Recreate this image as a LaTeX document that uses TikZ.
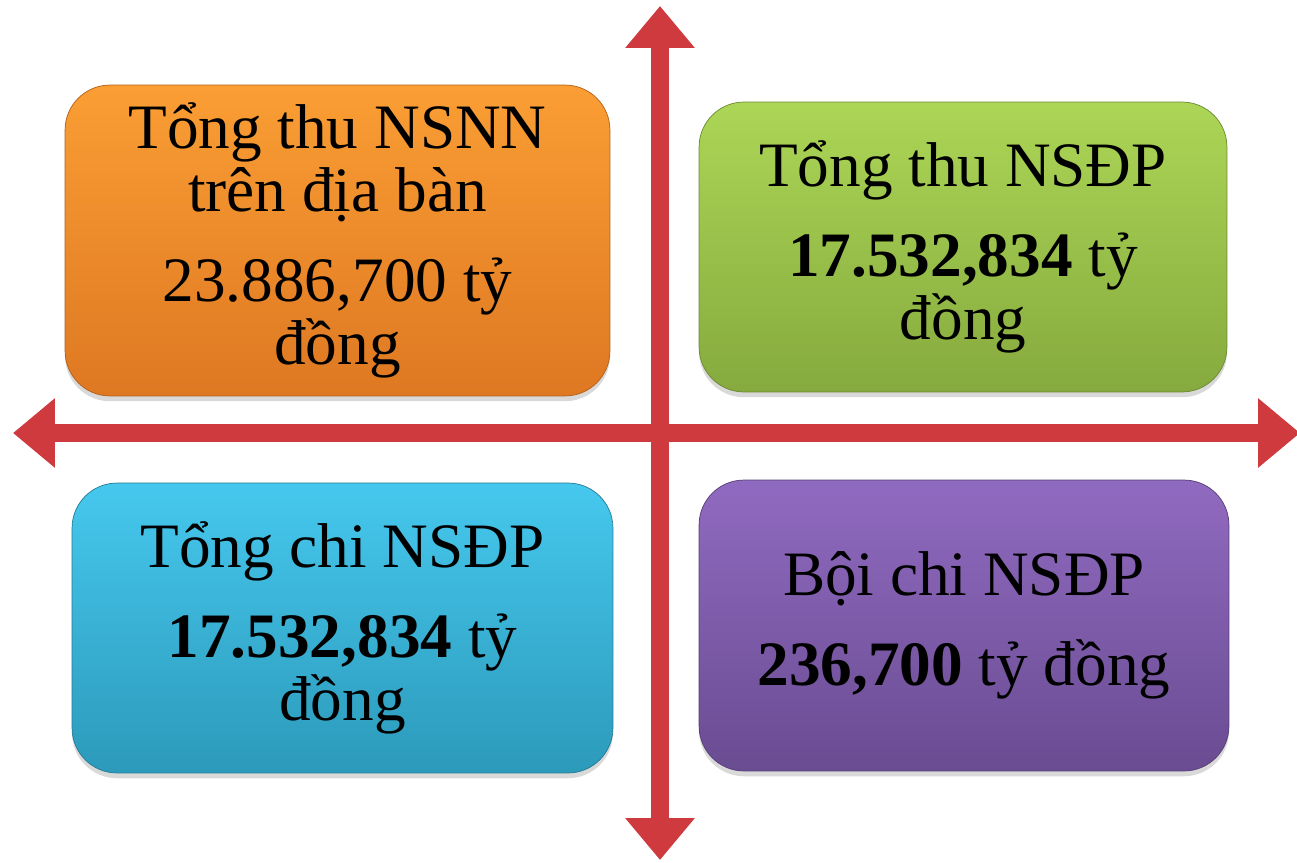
\documentclass[tikz,border=0pt]{standalone}
\usepackage{fontspec}
\setmainfont{Liberation Serif}
\usetikzlibrary{arrows.meta,shadows}
\definecolor{orangeT}{RGB}{250,158,52}
\definecolor{orangeB}{RGB}{222,120,34}
\definecolor{greenT}{RGB}{172,214,86}
\definecolor{greenB}{RGB}{134,170,62}
\definecolor{cyanT}{RGB}{70,200,238}
\definecolor{cyanB}{RGB}{44,154,186}
\definecolor{purpleT}{RGB}{144,106,192}
\definecolor{purpleB}{RGB}{106,76,146}
\definecolor{axisred}{RGB}{206,58,62}

\begin{document}
\begin{tikzpicture}[x=0.02cm,y=-0.02cm,
		box/.style={rounded corners=0.9cm,inner sep=0pt,align=center,
			font=\fontsize{36}{36}\selectfont,
			drop shadow={shadow xshift=0pt,shadow yshift=-3pt,opacity=0.3}},
		axis/.style={line width=0.36cm,draw=axisred,
			{Triangle[length=0.84cm,width=1.34cm]}-{Triangle[length=0.84cm,width=1.34cm]}}]
				            \useasboundingbox (0,0) rectangle (1297,862);
				            \coordinate (a_l) at (13,433);
				            \coordinate (a_r) at (1300,433);
				            \coordinate (a_t) at (660,6);
				            \coordinate (a_b) at (660,860);
				            \draw[axis] (a_l) -- (a_r);
				            \draw[axis] (a_t) -- (a_b);
				            \node[box,top color=orangeT,bottom color=orangeB,draw=orangeB!80!black,
				            minimum width=10.9cm,minimum height=6.22cm] (thu_nsnn) at (337.5,240.5)
				            {Tổng thu NSNN\\trên địa bàn\\[15pt]23.886,700 tỷ\\đồng};
				            \node[box,top color=greenT,bottom color=greenB,draw=greenB!80!black,
				            minimum width=10.56cm,minimum height=5.8cm] (thu_nsdp) at (963,247)
				            {Tổng thu NSĐP\\[15pt]\textbf{17.532,834} tỷ\\đồng};
				            \node[box,top color=cyanT,bottom color=cyanB,draw=cyanB!80!black,
				            minimum width=10.82cm,minimum height=5.8cm] (chi_nsdp) at (342.5,628)
				            {Tổng chi NSĐP\\[15pt]\textbf{17.532,834} tỷ\\đồng};
				            \node[box,top color=purpleT,bottom color=purpleB,draw=purpleB!80!black,
				            minimum width=10.6cm,minimum height=5.82cm] (boi_chi) at (964,625.5)
				            {Bội chi NSĐP\\[15pt]\textbf{236,700} tỷ đồng};
			            \end{tikzpicture}
\end{document}
